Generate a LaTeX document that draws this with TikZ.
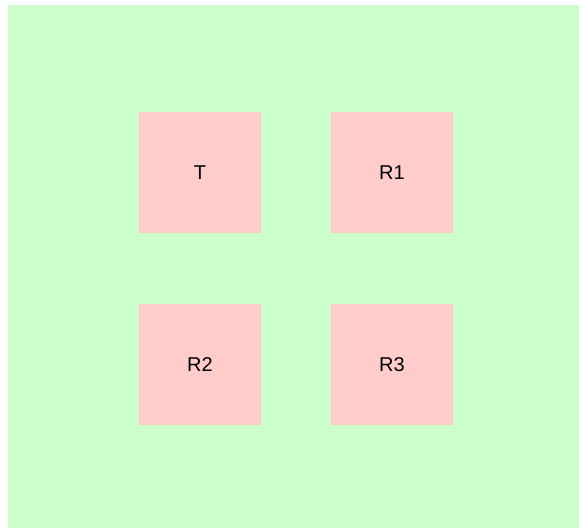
\documentclass[tikz,border=0pt]{standalone}
\usepackage{fontspec}
\setmainfont{Liberation Sans}
\definecolor{bggreen}{HTML}{CCFFCC}
\definecolor{boxpink}{HTML}{FFCCCC}
\begin{document}
\begin{tikzpicture}[x=1pt,y=-1pt,
  roombox/.style={fill=boxpink, draw=none, minimum width=122pt, minimum height=121pt, inner sep=0pt, font=\fontsize{20}{24}\selectfont, text=black}]
\useasboundingbox (0,0) rectangle (579,529);
\fill[bggreen] (8,5) rectangle (579,528);
\node[roombox] (T) at (200,172.5) {T};
\node[roombox] (R1) at (392,172.5) {R1};
\node[roombox] (R2) at (200,364.5) {R2};
\node[roombox] (R3) at (392,364.5) {R3};
\end{tikzpicture}
\end{document}
